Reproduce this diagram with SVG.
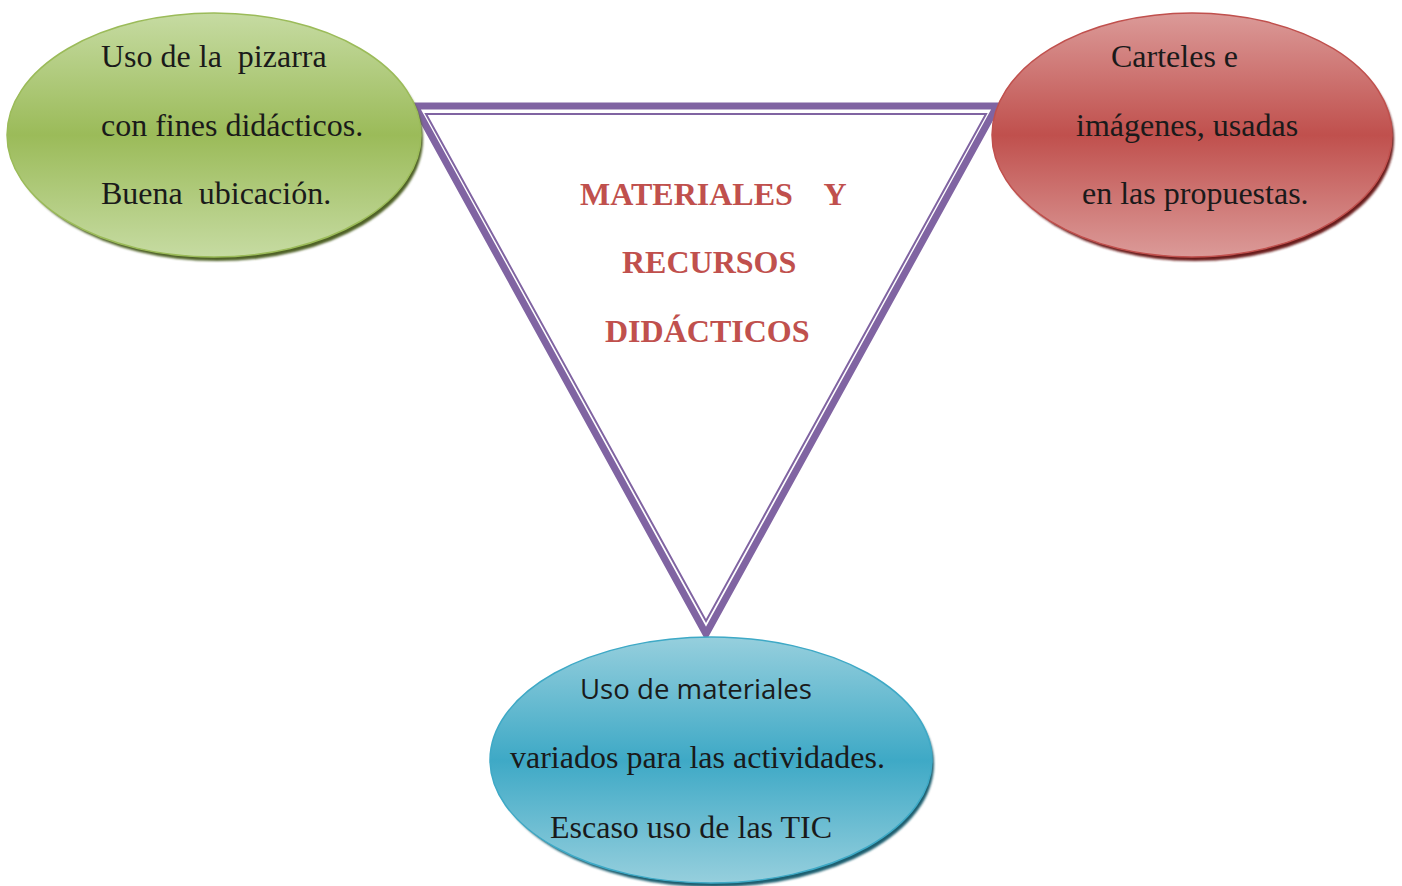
<svg xmlns="http://www.w3.org/2000/svg" width="1402" height="886" viewBox="0 0 1402 886">
<style>
  .body{font-family:"Liberation Serif","Times New Roman",serif;font-size:32px;fill:#1a1a1a}
  .sans{font-family:"Open Sans","Liberation Sans",sans-serif;font-size:27px;fill:#1a1a1a}
  .title{font-family:"Liberation Serif","Times New Roman",serif;font-size:32px;font-weight:bold;fill:#c0504d}
  .tri-outer{fill:none;stroke:#8064a2;stroke-width:7;stroke-linejoin:miter}
  .tri-inner{fill:none;stroke:#8064a2;stroke-width:2;stroke-linejoin:miter}
</style>
<defs>
  <linearGradient id="gGreen" x1="0" y1="0" x2="0" y2="1">
    <stop offset="0" stop-color="#c6dba2"/>
    <stop offset="0.5" stop-color="#9bbb59"/>
    <stop offset="1" stop-color="#c6dba2"/>
  </linearGradient>
  <linearGradient id="gRed" x1="0" y1="0" x2="0" y2="1">
    <stop offset="0" stop-color="#db9a98"/>
    <stop offset="0.5" stop-color="#c0504d"/>
    <stop offset="1" stop-color="#db9a98"/>
  </linearGradient>
  <linearGradient id="gBlue" x1="0" y1="0" x2="0" y2="1">
    <stop offset="0" stop-color="#96cfdd"/>
    <stop offset="0.5" stop-color="#3ea9c6"/>
    <stop offset="1" stop-color="#96cfdd"/>
  </linearGradient>
  <filter id="soft" x="-10%" y="-10%" width="120%" height="120%">
    <feGaussianBlur stdDeviation="1.2"/>
  </filter>
</defs>
<rect width="1402" height="886" fill="#ffffff"/>

<g id="connectors">
  <polygon class="tri-outer" points="415,106 997,106 706,634"/>
  <polygon class="tri-inner" points="426,114 986,114 706,621"/>
</g>

<g id="node-pizarra">
  <ellipse cx="217" cy="139" rx="206" ry="122" fill="#4f6228" filter="url(#soft)"/>
  <ellipse cx="214" cy="135" rx="207" ry="122" fill="url(#gGreen)" stroke="#9bbb59" stroke-width="1.5"/>
  <text class="body" x="101" y="67" xml:space="preserve">Uso de la  pizarra</text>
  <text class="body" x="101" y="136">con fines didácticos.</text>
  <text class="body" x="101" y="204" xml:space="preserve">Buena  ubicación.</text>
</g>

<g id="node-carteles">
  <ellipse cx="1195" cy="139" rx="199" ry="122" fill="#6b1f1d" filter="url(#soft)"/>
  <ellipse cx="1192" cy="135" rx="200" ry="122" fill="url(#gRed)" stroke="#c0504d" stroke-width="1.5"/>
  <text class="body" x="1111" y="67">Carteles e</text>
  <text class="body" x="1076" y="136">imágenes, usadas</text>
  <text class="body" x="1082" y="204">en las propuestas.</text>
</g>

<g id="node-materiales">
  <ellipse cx="714" cy="764" rx="220" ry="123" fill="#1f5f70" filter="url(#soft)"/>
  <ellipse cx="711" cy="760" rx="221" ry="123" fill="url(#gBlue)" stroke="#3ea9c6" stroke-width="1.5"/>
  <text class="sans" x="580" y="699" textLength="232" lengthAdjust="spacingAndGlyphs">Uso de materiales</text>
  <text class="body" x="510" y="768">variados para las actividades.</text>
  <text class="body" x="550" y="838">Escaso uso de las TIC</text>
</g>

<g id="node-title">
  <text class="title" x="580" y="205" xml:space="preserve">MATERIALES    Y</text>
  <text class="title" x="622" y="273">RECURSOS</text>
  <text class="title" x="605" y="342">DIDÁCTICOS</text>
</g>
</svg>
